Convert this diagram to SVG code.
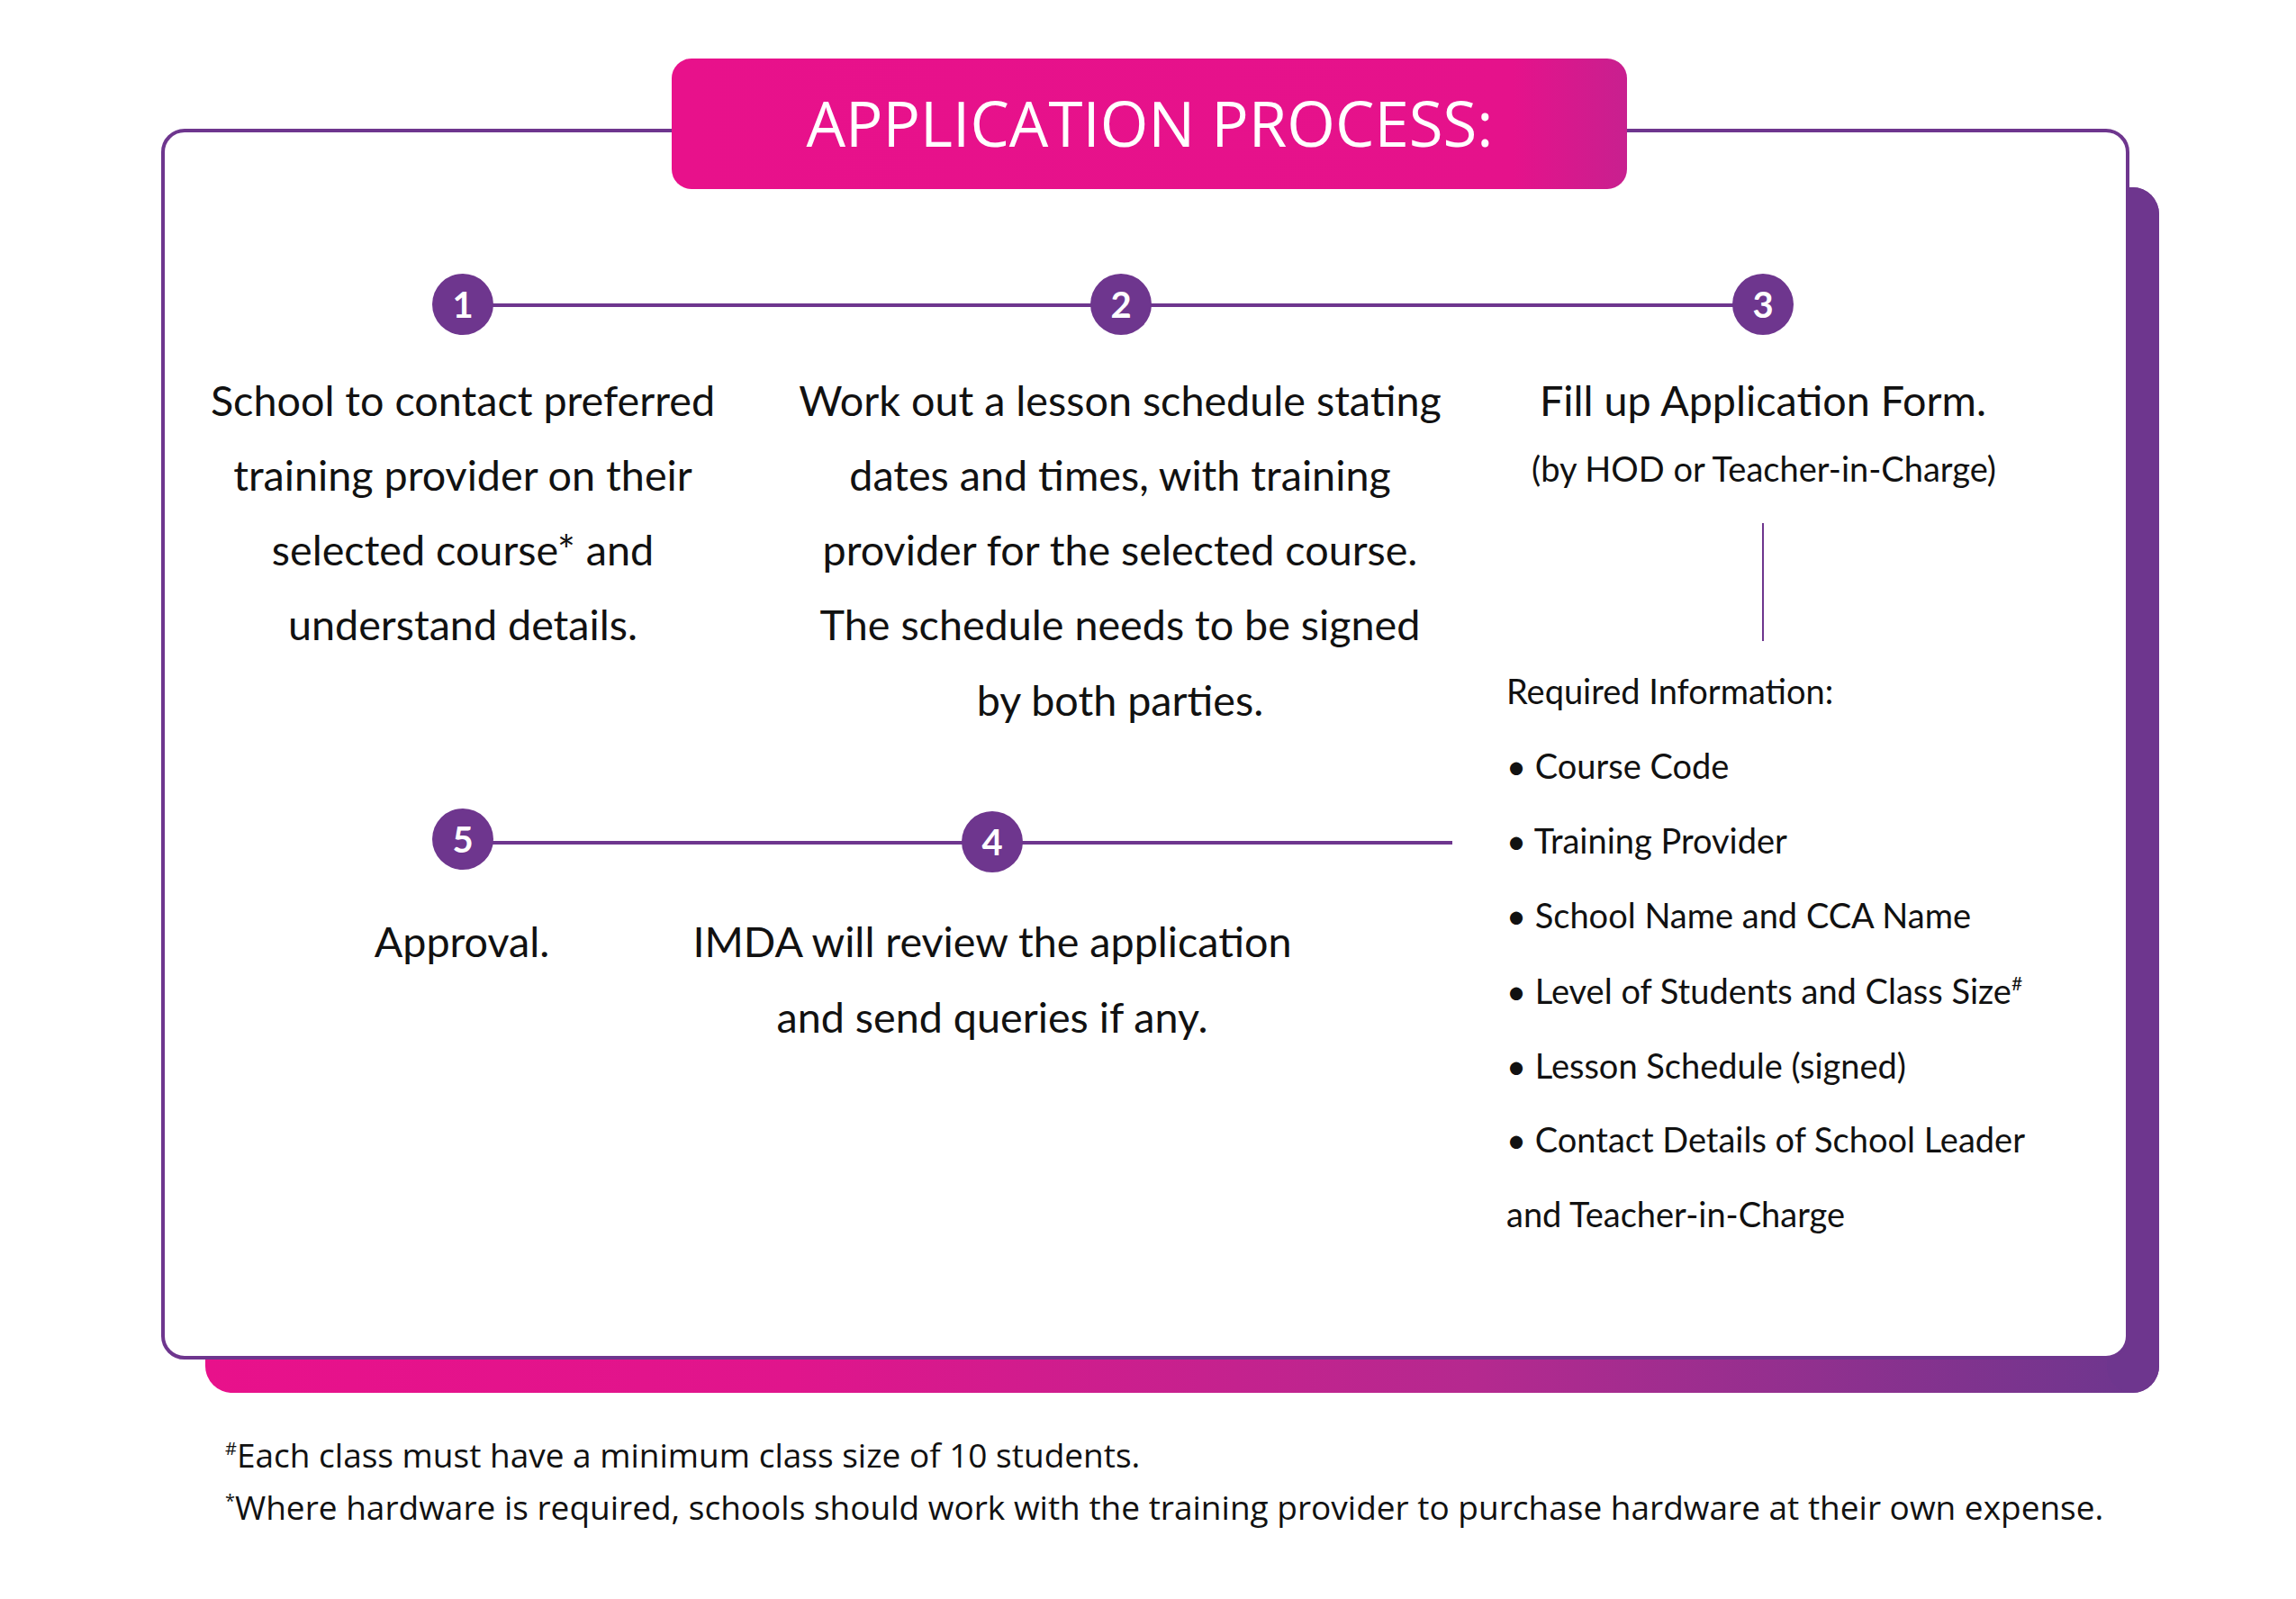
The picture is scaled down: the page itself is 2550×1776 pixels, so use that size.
<svg xmlns="http://www.w3.org/2000/svg" width="2550" height="1776" viewBox="0 0 2550 1776">
  <defs>
    <linearGradient id="shadowGrad" x1="0" y1="0" x2="1" y2="0">
      <stop offset="0" stop-color="#e8118b"/>
      <stop offset="0.3" stop-color="#e0158c"/>
      <stop offset="0.65" stop-color="#b5298f"/>
      <stop offset="1" stop-color="#6b378e"/>
    </linearGradient>
    <linearGradient id="titleGrad" x1="0" y1="0" x2="1" y2="0">
      <stop offset="0" stop-color="#e8118b"/>
      <stop offset="0.88" stop-color="#e5128b"/>
      <stop offset="1" stop-color="#c8208f"/>
    </linearGradient>
    <style>
      .body { font-family: Lato, "Noto Sans", sans-serif; font-size: 46.7px; fill: #111; text-anchor: middle; }
      .small { font-family: Lato, "Noto Sans", sans-serif; font-size: 38px; fill: #111; }
      .num { font-family: Lato, "Noto Sans", sans-serif; font-size: 40px; font-weight: 700; fill: #fff; text-anchor: middle; }
      .dot { fill: #6e368e; }
      .conn { stroke: #6e368e; stroke-width: 4; fill: none; }
      .foot { font-family: "Open Sans", "Liberation Sans", sans-serif; font-size: 37px; fill: #111; }
    </style>
  </defs>

  <g id="frame">
    <rect x="228" y="208" width="2170" height="1339" rx="30" fill="url(#shadowGrad)"/>
    <rect x="2340" y="208" width="58" height="1339" rx="30" fill="#6e368e"/>
    <rect x="181" y="145" width="2182" height="1363" rx="24" fill="#ffffff" stroke="#6e368e" stroke-width="4"/>
  </g>

  <g id="title">
    <rect x="746" y="65" width="1061" height="145" rx="22" fill="url(#titleGrad)"/>
    <text x="1277" y="163" font-family="'Open Sans', 'Liberation Sans', sans-serif" font-size="70" fill="#ffffff" text-anchor="middle" textLength="763" lengthAdjust="spacingAndGlyphs">APPLICATION PROCESS:</text>
  </g>

  <g id="connectors">
    <line class="conn" x1="514" y1="339" x2="1958" y2="339"/>
    <line class="conn" x1="514" y1="936" x2="1613" y2="936"/>
    <line x1="1958" y1="581" x2="1958" y2="712" stroke="#6e368e" stroke-width="2"/>
  </g>

  <g id="step1">
    <circle class="dot" cx="514" cy="338" r="34"/>
    <text class="num" x="514" y="353">1</text>
    <text class="body" x="514" y="462">School to contact preferred</text>
    <text class="body" x="514" y="545">training provider on their</text>
    <text class="body" x="514" y="628">selected course* and</text>
    <text class="body" x="514" y="711">understand details.</text>
  </g>

  <g id="step2">
    <circle class="dot" cx="1245" cy="338" r="34"/>
    <text class="num" x="1245" y="353">2</text>
    <text class="body" x="1244" y="462">Work out a lesson schedule stating</text>
    <text class="body" x="1244" y="545">dates and times, with training</text>
    <text class="body" x="1244" y="628">provider for the selected course.</text>
    <text class="body" x="1244" y="711">The schedule needs to be signed</text>
    <text class="body" x="1244" y="795">by both parties.</text>
  </g>

  <g id="step3">
    <circle class="dot" cx="1958" cy="338" r="34"/>
    <text class="num" x="1958" y="353">3</text>
    <text class="body" x="1958" y="462">Fill up Application Form.</text>
    <text class="small" x="1959" y="535" text-anchor="middle">(by HOD or Teacher-in-Charge)</text>
  </g>

  <g id="required-info">
    <text class="small" x="1673" y="782">Required Information:</text>
    <text class="small" x="1673" y="865">• Course Code</text>
    <text class="small" x="1673" y="948">• Training Provider</text>
    <text class="small" x="1673" y="1031">• School Name and CCA Name</text>
    <text class="small" x="1673" y="1115">• Level of Students and Class Size<tspan font-size="21" dy="-15">#</tspan></text>
    <text class="small" x="1673" y="1198">• Lesson Schedule (signed)</text>
    <text class="small" x="1673" y="1280">• Contact Details of School Leader</text>
    <text class="small" x="1673" y="1363">and Teacher-in-Charge</text>
  </g>

  <g id="step4">
    <circle class="dot" cx="1102" cy="935" r="34"/>
    <text class="num" x="1102" y="950">4</text>
    <text class="body" x="1102" y="1063">IMDA will review the application</text>
    <text class="body" x="1102" y="1147">and send queries if any.</text>
  </g>

  <g id="step5">
    <circle class="dot" cx="514" cy="932" r="34"/>
    <text class="num" x="514" y="947">5</text>
    <text class="body" x="513" y="1063">Approval.</text>
  </g>

  <g id="footnotes">
    <text class="foot" x="250" y="1630"><tspan font-size="20" dy="-14">#</tspan><tspan dy="14">Each class must have a minimum class size of 10 students.</tspan></text>
    <text class="foot" x="250" y="1688"><tspan font-size="20" dy="-14">*</tspan><tspan dy="14">Where hardware is required, schools should work with the training provider to purchase hardware at their own expense.</tspan></text>
  </g>
</svg>
